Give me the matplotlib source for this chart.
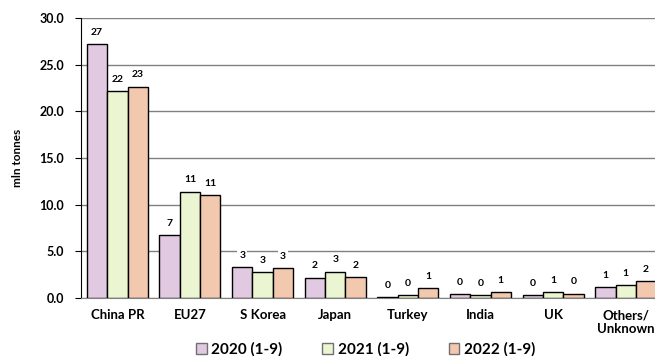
#bar chart of steel exports (Jan-Sep) by region, three years

import matplotlib.pyplot as plt
import numpy as np
import matplotlib as mpl

mpl.rcParams['font.family'] = ['Lato', 'DejaVu Sans']
mpl.rcParams['font.weight'] = 'bold'

regions = ["China PR", "EU27", "S Korea", "Japan", "Turkey", "India", "UK", "Others/\nUnknown"]
years = ["2020 (1-9)", "2021 (1-9)", "2022 (1-9)"]
vals_2020 = [27.2, 6.75, 3.32, 2.18, 0.10, 0.39, 0.28, 1.18]
vals_2021 = [22.15, 11.4, 2.75, 2.82, 0.28, 0.32, 0.60, 1.36]
vals_2022 = [22.65, 11.04, 3.18, 2.22, 1.04, 0.60, 0.43, 1.78]
colors = ["#E1C9E1", "#EBF5D1", "#F2C8AF"]

fig = plt.figure(figsize=(6.55, 3.56), dpi=100)
ax = fig.add_axes([0.1237, 0.163, 0.887, 0.786])

x = np.arange(len(regions))
w = 0.28
for i, (vals, lab) in enumerate(zip([vals_2020, vals_2021, vals_2022], years)):
    bars = ax.bar(x + (i - 1) * w, vals, w, color=colors[i], edgecolor="black",
                  linewidth=1.0, label=lab, zorder=3)
    for b, v in zip(bars, vals):
        ax.text(b.get_x() + b.get_width() / 2, v + 0.8, "%.0f" % v, ha="center", va="bottom",
                fontsize=7.5, fontweight="bold", zorder=4,
                bbox=dict(facecolor="white", edgecolor="none", pad=1.5))

ax.set_xlim(-0.5, len(regions) - 0.5)
ax.set_ylim(0, 30)
ax.set_yticks(np.arange(0, 31, 5))
ax.set_yticklabels(["%.1f" % t for t in np.arange(0, 31, 5)], fontsize=9)
ax.set_xticks(x)
ax.set_xticklabels(regions, fontsize=9.5)
ax.tick_params(axis="x", length=0, pad=8)
ax.tick_params(axis="y", length=4, direction="out", pad=8)
ax.yaxis.grid(True, color="#808080", linewidth=1.0, zorder=0)
ax.set_axisbelow(True)
ax.spines["top"].set_visible(False)
ax.spines["right"].set_visible(False)
ax.spines["bottom"].set_color("#808080")
ax.spines["left"].set_color("black")
ax.set_ylabel("mln tonnes", fontsize=8.5, fontweight="bold", labelpad=12)

leg = ax.legend(loc="center", bbox_to_anchor=(0.49, -0.185), ncol=3, frameon=False,
                handlelength=0.7, handleheight=0.7, handletextpad=0.3,
                columnspacing=2.6, prop={"weight": "bold", "size": 11})
for h in leg.legend_handles:
    h.set_edgecolor("#707070")

fig.savefig("out.png", dpi=100)
